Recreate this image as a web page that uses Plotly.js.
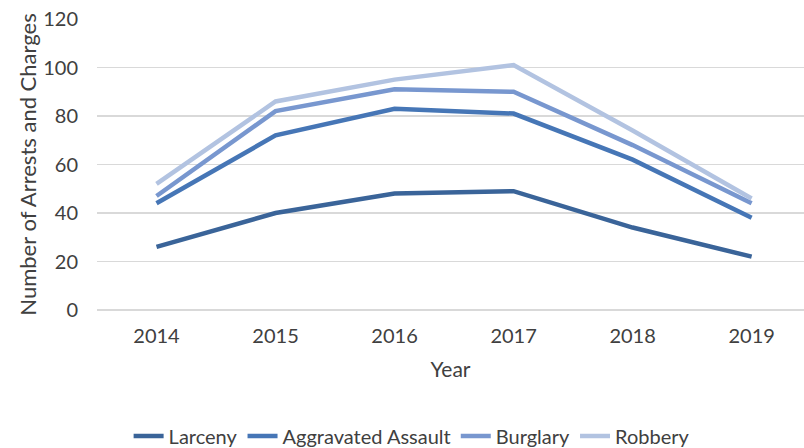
<!DOCTYPE html>
<html>
<head>
<meta charset="utf-8">
<script src="https://cdn.plot.ly/plotly-3.0.1.min.js"></script>
<style>html,body{margin:0;padding:0;background:#fff;}#chart{width:804px;height:448px;}</style>
</head>
<body>
<div id="chart"></div>
<script>
const years = ["2014", "2015", "2016", "2017", "2018", "2019"];
const larceny = [26, 40, 48, 49, 34, 22];
const aggravatedAssault = [44, 72, 83, 81, 62, 38];
const burglary = [47, 82, 91, 90, 68, 44];
const robbery = [52, 86, 95, 101, 74, 46];
const seriesNames = ["Larceny", "Aggravated Assault", "Burglary", "Robbery"];
const seriesColors = ["#3A6499", "#4676B6", "#7897CF", "#B2C3E1"];
const seriesValues = [larceny, aggravatedAssault, burglary, robbery];

const FONT = "Lato, 'Liberation Sans', sans-serif";
const traces = seriesValues.map((vals, i) => ({
  type: "scatter",
  mode: "lines",
  x: years,
  y: vals,
  name: seriesNames[i],
  line: {color: seriesColors[i], width: 4.5},
  hoverinfo: "x+y+name"
}));

const layout = {
  width: 804,
  height: 448,
  margin: {l: 97, r: 0, t: 19, b: 138, autoexpand: false},
  paper_bgcolor: "#ffffff",
  plot_bgcolor: "#ffffff",
  font: {family: FONT, color: "#404040", size: 20},
  showlegend: true,
  xaxis: {
    type: "category",
    range: [-0.5, 5.44],
    showgrid: false,
    zeroline: false,
    showline: false,
    ticks: "",
    ticklabelstandoff: 12,
    tickfont: {family: FONT, size: 20, color: "#404040"},
    title: {text: "Year", font: {family: FONT, size: 21, color: "#404040"}, standoff: 16}
  },
  yaxis: {
    range: [0, 120],
    dtick: 20,
    tick0: 0,
    showgrid: true,
    gridcolor: "#D9D9D9",
    gridwidth: 1.5,
    zeroline: true,
    zerolinecolor: "#D9D9D9",
    zerolinewidth: 1.5,
    showline: false,
    ticks: "",
    ticklabelstandoff: 18,
    tickfont: {family: FONT, size: 20, color: "#404040"},
    title: {text: "Number of Arrests and Charges", font: {family: FONT, size: 22, color: "#404040"}, standoff: 0}
  },
  legend: {
    orientation: "h",
    x: 0.445,
    xanchor: "center",
    y: -0.433,
    yanchor: "middle",
    font: {family: FONT, size: 20, color: "#404040"},
    itemwidth: 30,
    traceorder: "normal"
  }
};

Plotly.newPlot("chart", traces, layout, {displayModeBar: false, staticPlot: true});
</script>
</body>
</html>
